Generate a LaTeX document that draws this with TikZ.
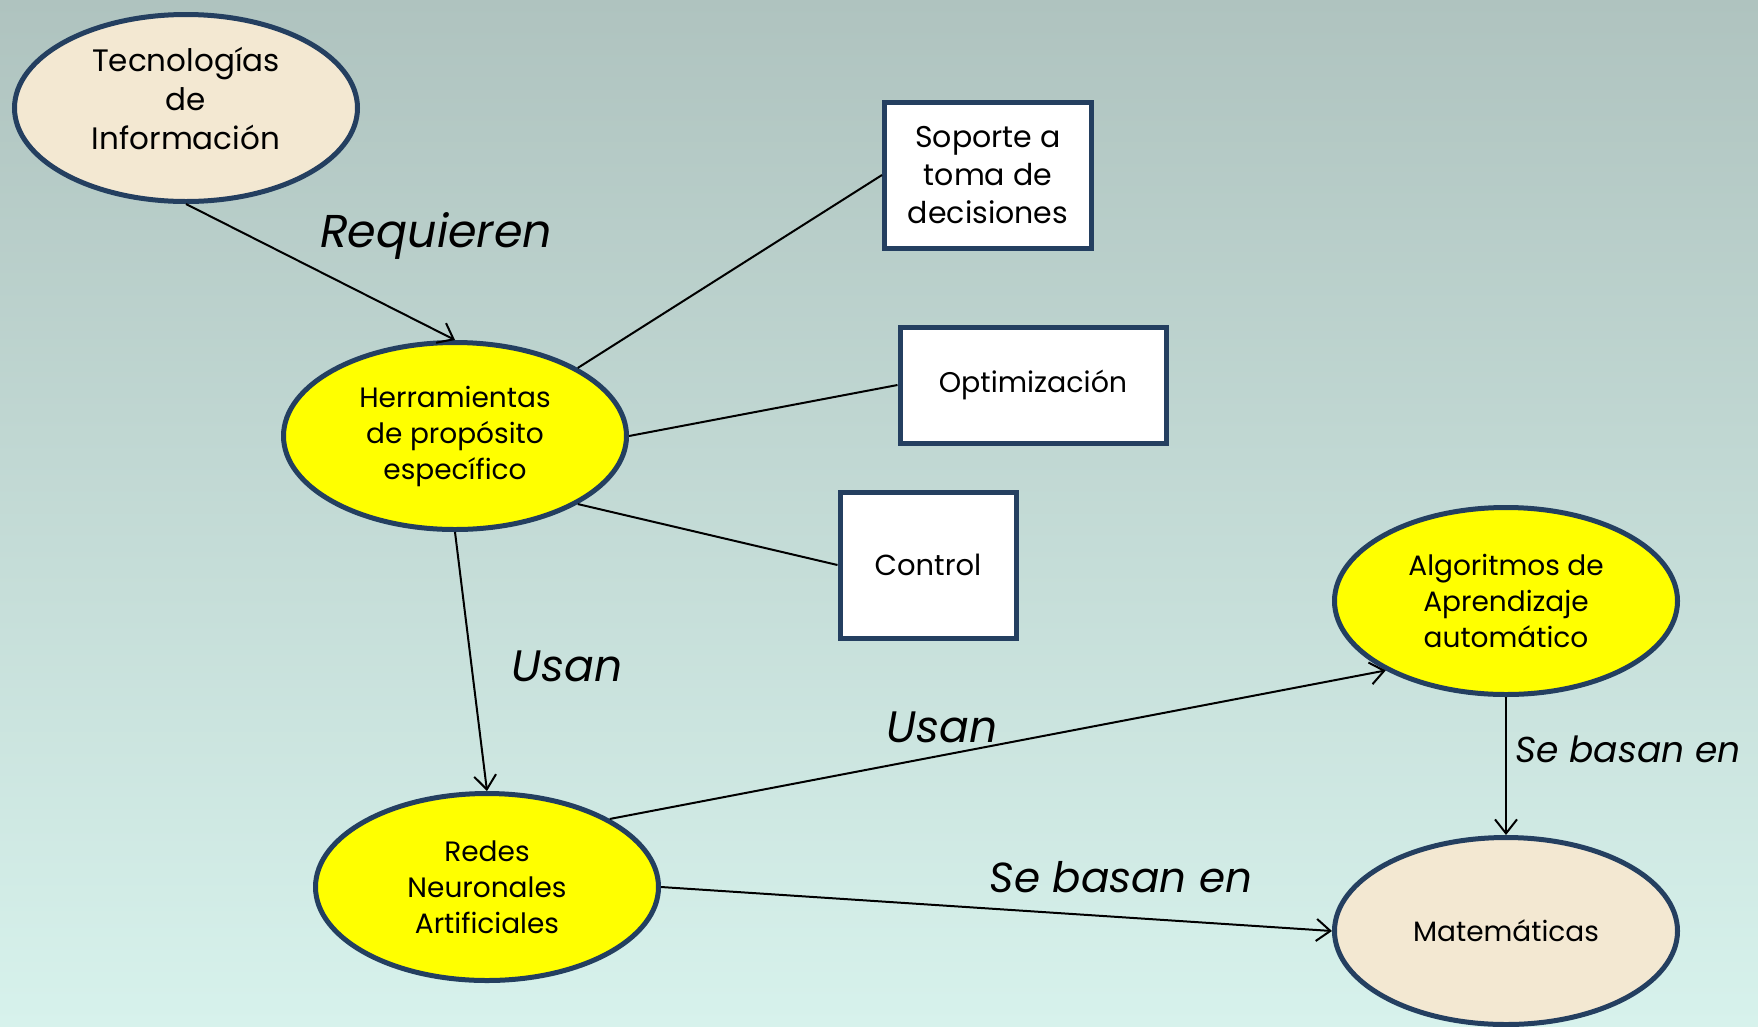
\documentclass[tikz,border=0pt]{standalone}
\usepackage{fontspec}
\setmainfont{Poppins}
\usetikzlibrary{arrows.meta}
\usetikzlibrary{positioning, shapes.geometric}
\definecolor{edgeblue}{HTML}{243F60}
\definecolor{cream}{HTML}{F3E8D2}
\definecolor{hlyellow}{RGB}{255,255,0}
\definecolor{bgtop}{HTML}{AFC3BF}
\definecolor{bgbottom}{HTML}{D7F2EC}
\tikzset{
base concept/.style = { ellipse, draw = edgeblue, line width = 5pt, fill = cream, minimum width = 343pt, minimum height = 187pt, inner sep = 0pt, align = center, font = \fontsize{28}{36}\selectfont },
key concept/.style = { base concept, fill = hlyellow },
task box/.style = { rectangle, draw = edgeblue, line width = 5pt, fill = white, inner sep = 0pt, align = center, font = \fontsize{30}{38}\selectfont },
link label/.style = { font = \fontsize{42}{48}\selectfont\itshape },
rel/.style = { black, line width = 2pt, -{Straight Barb[length = 14pt, width = 22pt]} },
tie/.style = { black, line width = 2pt },
}

\begin{document}
\begin{tikzpicture}[x = 1pt, y = -1pt]
    \useasboundingbox (0, 0) rectangle (1758, 1026);
    \shade[top color = bgtop, bottom color = bgbottom] (0, 0) rectangle (1758, 1026);
    % concepts
    \node[base concept, font = \fontsize{31}{39}\selectfont, text depth = 20pt] (tic) at (186, 108) {Tecnologías\\de\\Información};
    \node[key concept] (herr) at (455, 436) {Herramientas\\de propósito\\específico};
    \node[key concept] (rna) at (487, 887) {Redes\\Neuronales\\Artificiales};
    \node[key concept] (alg) at (1506, 601) {Algoritmos de\\Aprendizaje\\automático};
    \node[base concept] (mat) at (1506, 931) {Matemáticas};
    % applications
    \node[task box, minimum width = 207pt, minimum height = 146pt] (sop) at (988, 175) {Soporte a\\toma de\\decisiones};
    \node[task box, minimum width = 266pt, minimum height = 116pt, font = \fontsize{28.5}{38}\selectfont] (opt) at (1033, 385) {Optimización};
    \node[task box, minimum width = 176pt, minimum height = 146pt, font = \fontsize{29}{38}\selectfont] (ctl) at (928, 565) {Control};
    % links
    \draw[rel] (tic.south) -- (herr.north);
    \draw[tie] (herr.29) -- (sop.west);
    \draw[tie] (herr.east) -- (opt.west);
    \draw[tie] (herr.-29) -- (ctl.west);
    \draw[rel] (herr.south) -- (rna.north);
    \draw[rel] (rna.29) -- (alg.210);
    \draw[rel] (rna.east) -- (mat.west);
    \draw[rel] (alg.south) -- (mat.north);
    % link labels
    \node[link label, font = \fontsize{46}{52}\selectfont\itshape] (lreq) at (436, 236) {Requieren};
    \node[link label, font = \fontsize{44}{50}\selectfont\itshape] (lusa) at (567, 666) {Usan};
    \node[link label, font = \fontsize{44}{50}\selectfont\itshape] (lusb) at (942, 727) {Usan};
    \node[link label] (lbasa) at (1121, 877) {Se basan en};
    \node[link label, font = \fontsize{36}{42}\selectfont\itshape] (lbasb) at (1628, 749) {Se basan en};
\end{tikzpicture}
\end{document}
